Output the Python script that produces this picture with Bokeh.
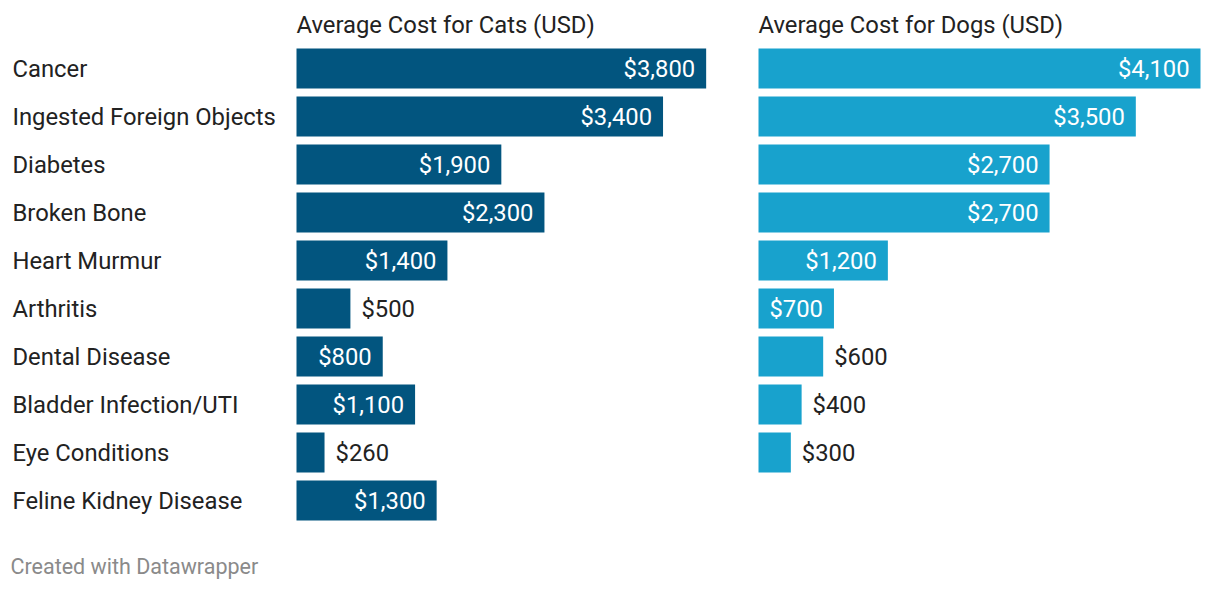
from bokeh.plotting import figure
from bokeh.models import Range1d, ColumnDataSource
from bokeh.core.properties import value
from bokeh.embed import file_html
from bokeh.resources import INLINE

categories = ["Cancer", "Ingested Foreign Objects", "Diabetes", "Broken Bone",
              "Heart Murmur", "Arthritis", "Dental Disease", "Bladder Infection/UTI",
              "Eye Conditions", "Feline Kidney Disease"]
cat_costs = [3800, 3400, 1900, 2300, 1400, 500, 800, 1100, 260, 1300]
dog_costs = [4100, 3500, 2700, 2700, 1200, 700, 600, 400, 300]
titles = ["Average Cost for Cats (USD)", "Average Cost for Dogs (USD)"]
footer = "Created with Datawrapper"

CAT_COLOR = "#02557f"
DOG_COLOR = "#18a2cd"
FONT = "Roboto"
TXT = "#222222"
FS = "23.8px"

W, H = 1204, 580
k = 442 / 4100.0            # pixels per dollar
x0 = -296 / k               # frame left in dollars
dog_off = (758 - 296) / k   # dog panel offset (dollars)
row_px = 48.0
top_units = -68 / row_px
bottom_units = top_units + H / row_px

p = figure(width=W, height=H, output_backend="svg", toolbar_location=None,
           x_range=Range1d(x0, x0 + W / k), y_range=Range1d(bottom_units, top_units),
           min_border=0, outline_line_color=None)
p.axis.visible = False
p.grid.visible = False
p.background_fill_color = "white"
p.border_fill_color = "white"

bh = 40 / row_px
pad = 11 / k

def panel(vals, off, color):
    ys = list(range(len(vals)))
    src = ColumnDataSource(dict(y=ys, left=[off] * len(vals), right=[off + v for v in vals]))
    p.hbar(y="y", left="left", right="right", height=bh, source=src,
           fill_color=color, line_color=None)
    ins = [i for i, v in enumerate(vals) if v * k >= 70]
    outs = [i for i, v in enumerate(vals) if v * k < 70]
    lab = lambda v: "${:,}".format(v)
    p.text(x=[off + vals[i] - pad for i in ins], y=ins, text=[lab(vals[i]) for i in ins],
           text_align="right", text_baseline="middle", text_color="white",
           text_font=value(FONT), text_font_size=FS)
    p.text(x=[off + vals[i] + pad for i in outs], y=outs, text=[lab(vals[i]) for i in outs],
           text_align="left", text_baseline="middle", text_color=TXT,
           text_font=value(FONT), text_font_size=FS)

panel(cat_costs, 0, CAT_COLOR)
panel(dog_costs, dog_off, DOG_COLOR)

p.text(x=[x0 + 12 / k] * len(categories), y=list(range(len(categories))), text=categories,
       text_align="left", text_baseline="middle", text_color=TXT,
       text_font=value(FONT), text_font_size=FS)

ty = top_units + 24 / row_px
p.text(x=[0, dog_off], y=[ty, ty], text=titles, text_align="left", text_baseline="middle",
       text_color=TXT, text_font=value(FONT), text_font_size=FS)

fy = top_units + 566 / row_px
p.text(x=[x0 + 10 / k], y=[fy], text=[footer], text_align="left", text_baseline="middle",
       text_color="#8a8a8a", text_font=value(FONT), text_font_size="21.5px")

open("out.html", "w").write(file_html(p, INLINE))
